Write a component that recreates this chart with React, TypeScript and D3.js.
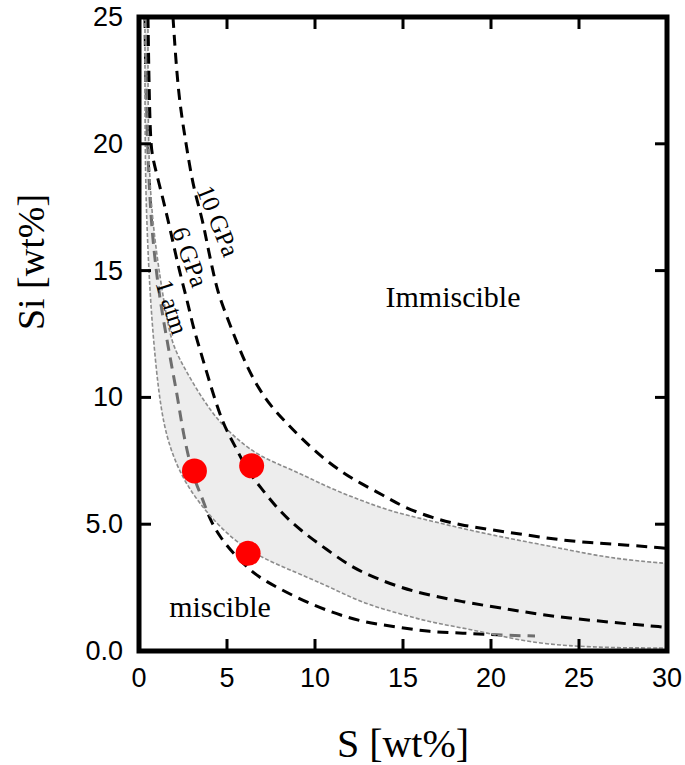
import React from "react";
import * as d3 from "d3";

// ---- data (S wt%, Si wt%) ----
const atm1S = [0.34, 0.4, 0.62, 0.91, 1.19, 1.59, 1.93, 2.22, 2.5, 3.07, 3.58, 4.03, 4.6, 5.34, 6.3, 7.05, 8.98, 10.85, 12.7, 14.66, 16.5, 18.4, 20.3, 22.5];
const atm1Si = [25, 21.7, 17.4, 15.4, 13.84, 12.26, 10.96, 9.9, 8.6, 6.86, 6.07, 5.17, 4.5, 3.86, 3.19, 2.8, 2.09, 1.54, 1.14, 0.95, 0.75, 0.71, 0.63, 0.59];

const gpa6S = [0.51, 0.62, 0.8, 1.19, 1.48, 1.875, 2.16, 2.44, 2.78, 3.07, 3.47, 3.86, 4.32, 4.77, 5.17, 5.57, 6.14, 6.88, 8.0, 9.15, 10.7, 12.2, 13.7, 15.57, 18.4, 21.25, 23.5, 27.0, 30];
const gpa6Si = [25, 20.1, 19.36, 18.3, 17.5, 16.3, 15.4, 14.6, 13.7, 12.8, 11.87, 10.96, 9.9, 9.0, 8.44, 7.93, 7.14, 6.47, 5.5, 4.77, 3.98, 3.25, 2.8, 2.33, 1.93, 1.62, 1.36, 1.12, 0.93];

const gpa10S = [1.93, 2.22, 2.61, 3.07, 3.58, 3.86, 4.15, 4.49, 5.0, 5.57, 6.14, 6.8, 7.5, 8.3, 9.15, 10.45, 11.6, 12.56, 13.86, 15.0, 16.7, 18.24, 20.1, 22.05, 23.9, 25.8, 27.7, 30];
const gpa10Si = [25, 22.0, 20.27, 18.3, 17.1, 16.1, 15.14, 14.1, 13.17, 12.15, 11.2, 10.35, 9.65, 9.05, 8.44, 7.6, 7.02, 6.62, 6.15, 5.68, 5.24, 4.97, 4.77, 4.57, 4.38, 4.26, 4.18, 4.05];

const bandUpperS = [0.51, 0.51, 0.8, 1.19, 1.59, 1.93, 2.73, 3.64, 4.6, 5.57, 6.88, 8.75, 10.68, 12.56, 14.43, 16.36, 18.24, 20.1, 22.05, 23.9, 25.8, 27.7, 30];
const bandUpperSi = [25, 19.36, 16.7, 14.75, 13.05, 12.0, 10.96, 9.9, 9.0, 8.35, 7.65, 7.14, 6.47, 5.95, 5.48, 5.17, 4.85, 4.57, 4.3, 4.06, 3.79, 3.59, 3.45];

const bandLowerS = [0.34, 0.34, 0.45, 0.62, 0.91, 1.36, 2.16, 2.9, 3.86, 5.34, 6.88, 8.98, 10.85, 12.7, 14.66, 16.5, 18.4, 20.3, 22.2, 24.3, 27.2, 30];
const bandLowerSi = [25, 19.36, 16.7, 14.1, 11.47, 8.83, 7.26, 6.35, 5.44, 4.38, 3.7, 3.08, 2.52, 1.89, 1.5, 1.14, 0.91, 0.63, 0.35, 0.2, 0.12, 0.12];

const pointS = [3.15, 6.4, 6.2];
const pointSi = [7.1, 7.3, 3.85];

const xTicks = [0, 5, 10, 15, 20, 25, 30];
const xTickLabels = ["0", "5", "10", "15", "20", "25", "30"];
const yTicks = [0, 5, 10, 15, 20, 25];
const yTickLabels = ["0.0", "5.0", "10", "15", "20", "25"];

const W = 685;
const H = 765;
const L = 139;
const R = 667;
const T = 17;
const B = 651;

export default function App() {
  const x = d3.scaleLinear().domain([0, 30]).range([L, R]);
  const y = d3.scaleLinear().domain([0, 25]).range([B, T]);
  const zip = (a: number[], b: number[]) => a.map((v, i) => [v, b[i]] as [number, number]);
  const line = d3
    .line<[number, number]>()
    .x((d) => x(d[0]))
    .y((d) => y(d[1]))
    .curve(d3.curveBasis);

  const upper = zip(bandUpperS, bandUpperSi);
  const lower = zip(bandLowerS, bandLowerSi);
  const bandPath = line(upper) + "L" + line([...lower].reverse())!.slice(1) + "Z";

  const serif = "'Liberation Serif', 'Times New Roman', serif";
  const sans = "'Liberation Sans', Arial, sans-serif";
  const tickLen = 12;

  return (
    <svg width={W} height={H} style={{ position: "absolute", left: 0, top: 0, background: "#fff" }}>
      <defs>
        <clipPath id="plot">
          <rect x={L} y={T} width={R - L} height={B - T} />
        </clipPath>
      </defs>
      <g clipPath="url(#plot)">
        <path d={line(zip(atm1S, atm1Si))!} fill="none" stroke="#000" strokeWidth={3} strokeDasharray="11,7" />
        <path d={bandPath} fill="#dcdcdc" fillOpacity={0.5} stroke="none" />
        <path d={line(upper)!} fill="none" stroke="#8c8c8c" strokeWidth={1.6} strokeDasharray="4,2" />
        <path d={line(lower)!} fill="none" stroke="#8c8c8c" strokeWidth={1.6} strokeDasharray="4,2" />
        <path d={line(zip(gpa6S, gpa6Si))!} fill="none" stroke="#000" strokeWidth={3} strokeDasharray="11,7" />
        <path d={line(zip(gpa10S, gpa10Si))!} fill="none" stroke="#000" strokeWidth={3} strokeDasharray="11,7" />
        {pointS.map((s, i) => (
          <circle key={i} cx={x(s)} cy={y(pointSi[i])} r={12.5} fill="#ff0000" />
        ))}
      </g>

      {/* curve labels */}
      <text x={218} y={221} fontFamily={serif} fontSize={25} textAnchor="middle" dominantBaseline="central" transform="rotate(68 218 221)">10 GPa</text>
      <text x={190} y={257} fontFamily={serif} fontSize={25} textAnchor="middle" dominantBaseline="central" transform="rotate(70 190 257)">6 GPa</text>
      <text x={172} y={307} fontFamily={serif} fontSize={25} textAnchor="middle" dominantBaseline="central" transform="rotate(72 172 307)">1 atm</text>

      <text x={453} y={307} fontFamily={serif} fontSize={30} textAnchor="middle">Immiscible</text>
      <text x={220} y={617} fontFamily={serif} fontSize={30} textAnchor="middle">miscible</text>

      {/* frame */}
      <rect x={L} y={T} width={R - L} height={B - T} fill="none" stroke="#000" strokeWidth={5} />

      {/* ticks */}
      {xTicks.slice(1, -1).map((t) => (
        <g key={"xt" + t}>
          <line x1={x(t)} x2={x(t)} y1={B} y2={B - tickLen} stroke="#000" strokeWidth={3} />
          <line x1={x(t)} x2={x(t)} y1={T} y2={T + tickLen} stroke="#000" strokeWidth={3} />
        </g>
      ))}
      {yTicks.slice(1, -1).map((t) => (
        <g key={"yt" + t}>
          <line x1={L} x2={L + tickLen} y1={y(t)} y2={y(t)} stroke="#000" strokeWidth={3} />
          <line x1={R} x2={R - tickLen} y1={y(t)} y2={y(t)} stroke="#000" strokeWidth={3} />
        </g>
      ))}

      {/* tick labels */}
      {xTicks.map((t, i) => (
        <text key={"xl" + t} x={x(t)} y={B + 36} fontFamily={sans} fontSize={27} textAnchor="middle">
          {xTickLabels[i]}
        </text>
      ))}
      {yTicks.map((t, i) => (
        <text key={"yl" + t} x={L - 16} y={y(t)} fontFamily={sans} fontSize={27} textAnchor="end" dominantBaseline="central">
          {yTickLabels[i]}
        </text>
      ))}

      {/* axis titles */}
      <text x={403} y={757} fontFamily={serif} fontSize={40} textAnchor="middle">S [wt%]</text>
      <text x={0} y={0} fontFamily={serif} fontSize={38} textAnchor="middle" transform="translate(44 262) rotate(-90)">Si [wt%]</text>
    </svg>
  );
}
